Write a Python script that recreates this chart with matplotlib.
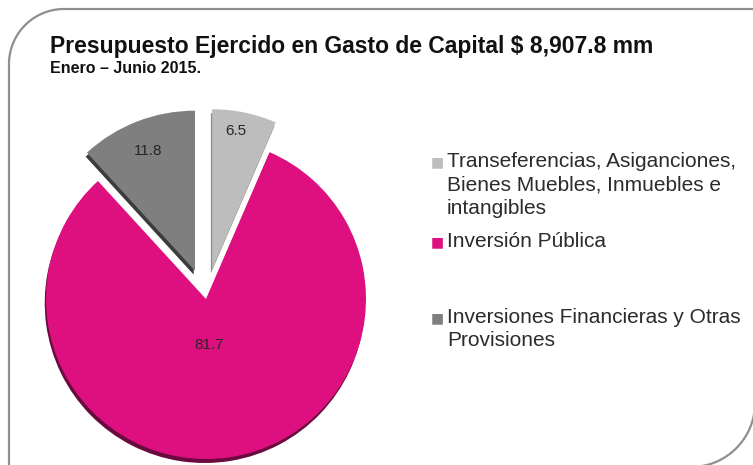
import numpy as np
import matplotlib.pyplot as plt
from matplotlib.lines import Line2D

valores = [6.5, 81.7, 11.8]
etiquetas = ["6.5", "81.7", "11.8"]
colores = ["#BDBDBD", "#DE0F7E", "#7F7F7F"]
sombras = ["#8C8C8C", "#6A0A3E", "#3C3C3C"]
separar = [0.19, 0, 0.19]
leyenda = ["Transeferencias, Asiganciones,\nBienes Muebles, Inmuebles e\nintangibles",
           "Inversión Pública",
           "Inversiones Financieras y Otras\nProvisiones"]
titulo = "Presupuesto Ejercido en Gasto de Capital $ 8,907.8 mm"
subtitulo = "Enero \u2013 Junio 2015."

W, H = 753, 465
fig = plt.figure(figsize=(W / 100, H / 100), dpi=100)

# marco con esquinas redondeadas (sup. izq. e inf. der.)
R = 55
t = np.linspace(np.pi, np.pi / 2, 40)
xs = [9, 9] + list(9 + R + R * np.cos(t)) + [800]
ys = [-10, H - 9 - R] + list(H - 9 - R + R * np.sin(t)) + [H - 9]
R2 = 64
t2 = np.linspace(0, -np.pi / 2, 40)
xs2 = [755, 755] + list(755 - R2 + R2 * np.cos(t2)) + [0]
ys2 = [H + 10, -2 + R2] + list(-2 + R2 + R2 * np.sin(t2)) + [-2]
for a, b in [(xs, ys), (xs2, ys2)]:
    fig.add_artist(Line2D(np.array(a) / W, np.array(b) / H, color="#8F8F8F",
                          lw=1.6, transform=fig.transFigure))

# pastel
r = 160
half = 1.3
size = 2 * half * r
cx, cy = 206, 166
ax = fig.add_axes([(cx - size / 2) / W, (cy - size / 2) / H, size / W, size / H])
ax.pie(valores, colors=sombras, explode=separar, startangle=90, counterclock=False,
       center=(-0.008, -0.025), wedgeprops=dict(linewidth=0))
cunas, _ = ax.pie(valores, colors=colores, explode=separar, startangle=90,
                  counterclock=False, wedgeprops=dict(linewidth=0))
ax.set_xlim(-half, half)
ax.set_ylim(-half, half)
ax.axis("off")

fracs = [0.88, 0.29, 0.8]
for w, txt, f in zip(cunas, etiquetas, fracs):
    ang = np.radians((w.theta1 + w.theta2) / 2)
    x0, y0 = w.center
    ax.text(x0 + f * np.cos(ang) - (0.03 if txt == "81.7" else 0.03 if txt == "6.5" else 0),
            y0 + f * np.sin(ang), txt, ha="center", va="center",
            fontsize=11, color="#262626", family=["Liberation Sans", "DejaVu Sans"])

# titulos
fig.text(50 / W, 1 - 53 / H, titulo, fontsize=16.5, fontweight="bold", color="#111111",
         family=["Liberation Sans", "DejaVu Sans"], va="baseline")
fig.text(50 / W, 1 - 73 / H, subtitulo, fontsize=11.5, fontweight="bold", color="#111111",
         family=["Liberation Sans", "DejaVu Sans"], va="baseline")

# leyenda
tops = [162, 242, 318]
for txt, col, y in zip(leyenda, colores, tops):
    fig.text(437 / W, 1 - y / H, "\u25A0", fontsize=10, color=col, ha="center", va="center",
             family=["DejaVu Sans"])
    fig.text(447 / W, 1 - (y - 10) / H, txt, fontsize=15, color="#2B2B2B", ha="left", va="top",
             family=["Liberation Sans", "DejaVu Sans"], linespacing=1.3)

fig.savefig("out.png", dpi=100)
